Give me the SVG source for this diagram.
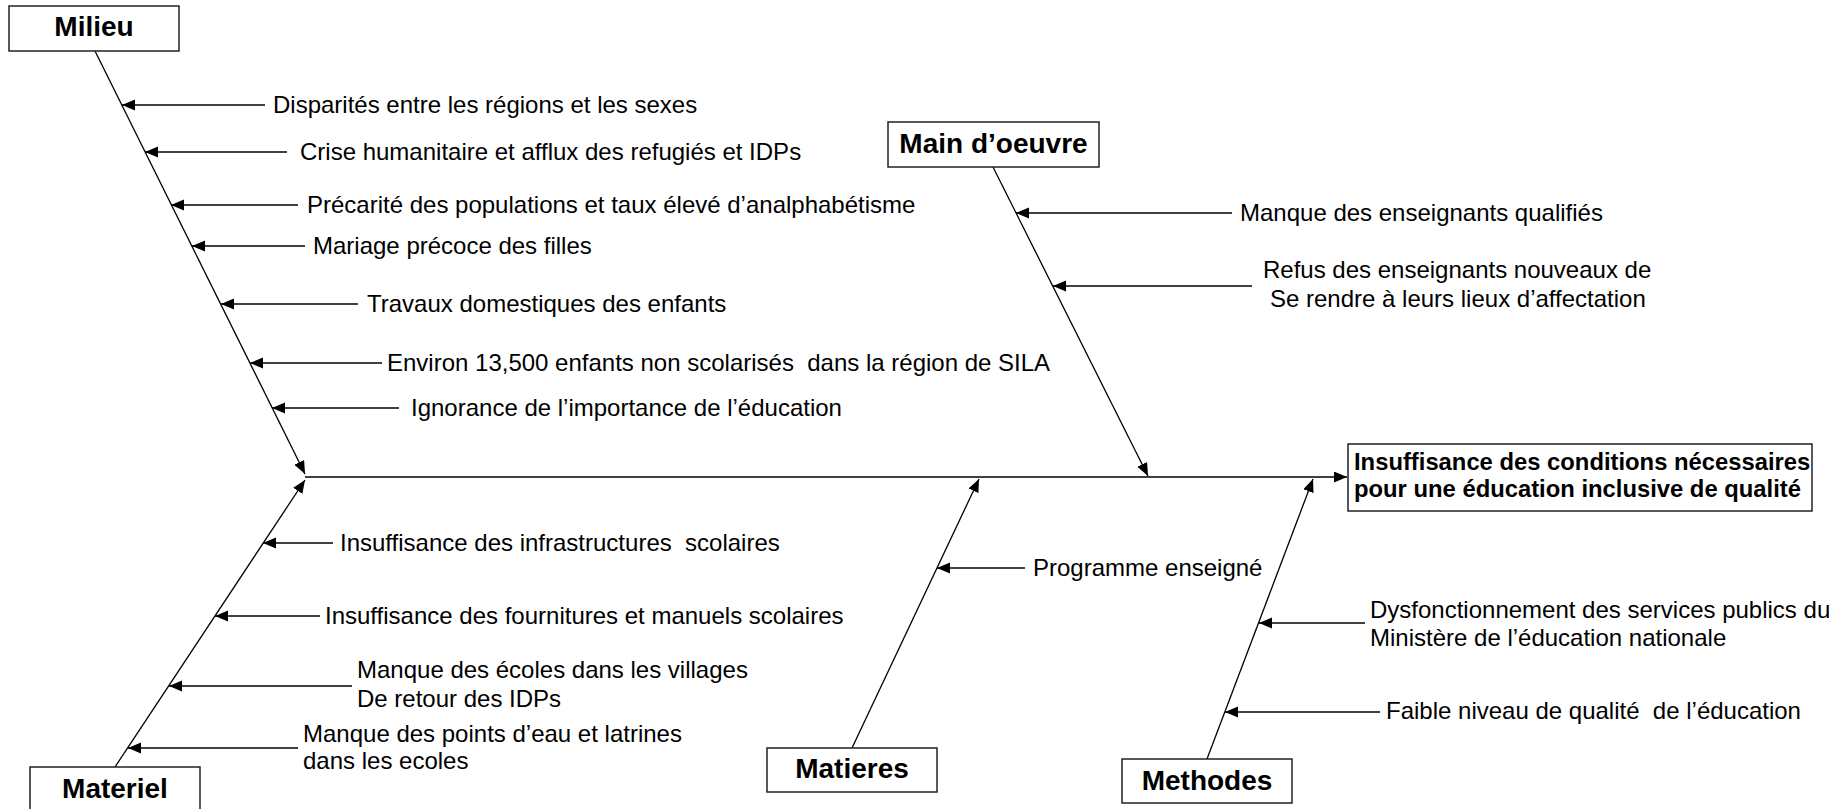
<svg xmlns="http://www.w3.org/2000/svg" width="1842" height="809" viewBox="0 0 1842 809">
<defs>
<style>
.box{fill:#fff;stroke:#222;stroke-width:1.5}
.cat{font-family:"Liberation Sans",Arial,sans-serif;font-weight:bold;font-size:28px;fill:#000;text-anchor:middle}
.eff{font-family:"Liberation Sans",Arial,sans-serif;font-weight:bold;font-size:23.8px;fill:#000}
.lbl{font-family:"Liberation Sans",Arial,sans-serif;font-size:24px;fill:#000}
.ln{stroke:#000;stroke-width:1.3;fill:none}
.ar{stroke:#000;stroke-width:1.3;fill:none;marker-end:url(#ah)}
</style>
<marker id="ah" markerUnits="userSpaceOnUse" markerWidth="14" markerHeight="12" refX="13" refY="5.5" orient="auto">
<path d="M0,0 L13,5.5 L0,11 z" fill="#000"/>
</marker>
</defs>
<rect width="1842" height="809" fill="#fff"/>
<g id="connectors">
<line class="ar" x1="305" y1="477" x2="1347" y2="477"/>
<line class="ar" x1="95" y1="51" x2="305" y2="474"/>
<line class="ar" x1="115" y1="767" x2="305" y2="480"/>
<line class="ar" x1="993" y1="167" x2="1148" y2="476"/>
<line class="ar" x1="852" y1="748" x2="979" y2="479"/>
<line class="ar" x1="1207" y1="759" x2="1313" y2="479"/>
<line class="ar" x1="265" y1="105" x2="122" y2="105"/>
<line class="ar" x1="287" y1="152" x2="145" y2="152"/>
<line class="ar" x1="298" y1="205" x2="171" y2="205"/>
<line class="ar" x1="305" y1="246" x2="192" y2="246"/>
<line class="ar" x1="358" y1="304" x2="221" y2="304"/>
<line class="ar" x1="382" y1="363" x2="250" y2="363"/>
<line class="ar" x1="399" y1="408" x2="272" y2="408"/>
<line class="ar" x1="333" y1="543" x2="263" y2="543"/>
<line class="ar" x1="320" y1="616" x2="215" y2="616"/>
<line class="ar" x1="352" y1="686" x2="169" y2="686"/>
<line class="ar" x1="298" y1="748" x2="128" y2="748"/>
<line class="ar" x1="1025" y1="568" x2="937" y2="568"/>
<line class="ar" x1="1232" y1="213" x2="1016" y2="213"/>
<line class="ar" x1="1252" y1="286" x2="1053" y2="286"/>
<line class="ar" x1="1365" y1="623" x2="1259" y2="623"/>
<line class="ar" x1="1380" y1="712" x2="1225" y2="712"/>
</g>
<g id="effect">
<rect class="box" x="1348" y="444" width="464" height="67"/>
<text class="eff" x="1354" y="470">Insuffisance des conditions nécessaires</text>
<text class="eff" x="1354" y="497">pour une éducation inclusive de qualité</text>
</g>
<g id="milieu">
<rect class="box" x="9" y="6" width="170" height="45"/>
<text class="cat" x="94" y="36">Milieu</text>
</g>
<g id="main-oeuvre">
<rect class="box" x="888" y="122" width="211" height="45"/>
<text class="cat" x="993.5" y="153">Main d’oeuvre</text>
</g>
<g id="materiel">
<rect class="box" x="30" y="767" width="170" height="50"/>
<text class="cat" x="115" y="798">Materiel</text>
</g>
<g id="matieres">
<rect class="box" x="767" y="748" width="170" height="44"/>
<text class="cat" x="852" y="778">Matieres</text>
</g>
<g id="methodes">
<rect class="box" x="1122" y="759" width="170" height="44"/>
<text class="cat" x="1207" y="790">Methodes</text>
</g>
<g id="causes-milieu">
<text class="lbl" x="273" y="113">Disparités entre les régions et les sexes</text>
<text class="lbl" x="300" y="160">Crise humanitaire et afflux des refugiés et IDPs</text>
<text class="lbl" x="307" y="213">Précarité des populations et taux élevé d’analphabétisme</text>
<text class="lbl" x="313" y="254">Mariage précoce des filles</text>
<text class="lbl" x="367" y="312">Travaux domestiques des enfants</text>
<text class="lbl" x="387" y="371" xml:space="preserve">Environ 13,500 enfants non scolarisés  dans la région de SILA</text>
<text class="lbl" x="411" y="416">Ignorance de l’importance de l’éducation</text>
</g>
<g id="causes-materiel">
<text class="lbl" x="340" y="551" xml:space="preserve">Insuffisance des infrastructures  scolaires</text>
<text class="lbl" x="325" y="624">Insuffisance des fournitures et manuels scolaires</text>
<text class="lbl" x="357" y="678">Manque des écoles dans les villages</text>
<text class="lbl" x="357" y="707">De retour des IDPs</text>
<text class="lbl" x="303" y="742">Manque des points d’eau et latrines</text>
<text class="lbl" x="303" y="769">dans les ecoles</text>
</g>
<g id="causes-matieres">
<text class="lbl" x="1033" y="576">Programme enseigné</text>
</g>
<g id="causes-main">
<text class="lbl" x="1240" y="221">Manque des enseignants qualifiés</text>
<text class="lbl" x="1263" y="278">Refus des enseignants nouveaux de</text>
<text class="lbl" x="1270" y="307">Se rendre à leurs lieux d’affectation</text>
</g>
<g id="causes-methodes">
<text class="lbl" x="1370" y="618">Dysfonctionnement des services publics du</text>
<text class="lbl" x="1370" y="646">Ministère de l’éducation nationale</text>
<text class="lbl" x="1386" y="719" xml:space="preserve">Faible niveau de qualité  de l’éducation</text>
</g>
</svg>
